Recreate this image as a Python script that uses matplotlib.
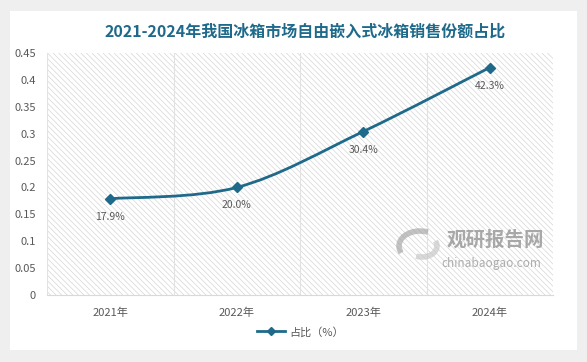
import matplotlib

matplotlib.use("Agg")
import matplotlib.pyplot as plt
from matplotlib.patches import Rectangle, PathPatch, Arc
from matplotlib.path import Path
from matplotlib.lines import Line2D

plt.rcParams["font.family"] = ["Noto Sans CJK SC", "DejaVu Sans"]
plt.rcParams["hatch.linewidth"] = 0.45

# ── Data ──
years = ["2021年", "2022年", "2023年", "2024年"]
share = [0.179, 0.200, 0.304, 0.423]
share_labels = ["17.9%", "20.0%", "30.4%", "42.3%"]
y_ticks = [0, 0.05, 0.1, 0.15, 0.2, 0.25, 0.3, 0.35, 0.4, 0.45]
y_tick_labels = ["0", "0.05", "0.1", "0.15", "0.2", "0.25", "0.3", "0.35", "0.4", "0.45"]

LINE = "#1f6a8a"
GREY_TXT = "#595959"
W, H = 587, 362

fig = plt.figure(figsize=(5.87, 3.62), dpi=100)
fig.patch.set_facecolor("#efefef")

# white card behind everything
fig.patches.append(
    Rectangle((10 / W, 1 - 350 / H), 567 / W, 339 / H,
              transform=fig.transFigure, facecolor="white", edgecolor="none", zorder=-5)
)

ax = fig.add_axes([47 / W, 1 - 295 / H, 506 / W, 242 / H])
ax.set_facecolor("white")
ax.set_xlim(-0.5, 3.5)
ax.set_ylim(0, 0.45)

# hatched plot area
ax.add_patch(Rectangle((0, 0), 1, 1, transform=ax.transAxes, facecolor="none",
                       edgecolor="#d2d2d2", hatch="\\" * 6, lw=0, zorder=0))

for b in [-0.5, 0.5, 1.5, 2.5]:
    ax.axvline(b, color="#e2e2e2", lw=0.8, zorder=1)

# smoothed line (Catmull-Rom through the data points)
xs = list(range(len(share)))
pts = list(zip(xs, share))
verts = [pts[0]]
codes = [Path.MOVETO]
for i in range(len(pts) - 1):
    p0 = pts[i - 1] if i > 0 else pts[i]
    p1 = pts[i]
    p2 = pts[i + 1]
    p3 = pts[i + 2] if i + 2 < len(pts) else pts[i + 1]
    c1 = (p1[0] + (p2[0] - p0[0]) / 6, p1[1] + (p2[1] - p0[1]) / 6)
    c2 = (p2[0] - (p3[0] - p1[0]) / 6, p2[1] - (p3[1] - p1[1]) / 6)
    verts += [c1, c2, p2]
    codes += [Path.CURVE4] * 3
ax.add_patch(PathPatch(Path(verts, codes), facecolor="none", edgecolor=LINE, lw=2, zorder=3))
ax.plot(xs, share, linestyle="none", marker="D", markersize=5.5, color=LINE, zorder=4)

for x, y, lab in zip(xs, share, share_labels):
    ax.annotate(lab, (x, y), xytext=(0, -13), textcoords="offset points",
                ha="center", va="center", fontsize=7.5, color=GREY_TXT, zorder=5)

ax.set_yticks(y_ticks)
ax.set_yticklabels(y_tick_labels)
ax.set_xticks(xs)
ax.set_xticklabels(years)
ax.tick_params(axis="both", length=0, labelsize=8, colors=GREY_TXT)
ax.tick_params(axis="x", pad=9)
ax.tick_params(axis="y", pad=8)
for s in ["top", "right", "left"]:
    ax.spines[s].set_visible(False)
ax.spines["bottom"].set_color("#d9d9d9")

# title
fig.text(0.5 + 12 / W, 1 - 32 / H, "2021-2024年我国冰箱市场自由嵌入式冰箱销售份额占比",
         ha="center", va="center", fontsize=11.5, fontweight="bold", color="#1f6a8a")

# legend
handle = Line2D([0], [0], color=LINE, lw=2, marker="D", markersize=4.5)
fig.legend([handle], ["占比（%）"], loc="center", bbox_to_anchor=(300 / W, 1 - 332 / H),
           frameon=False, fontsize=8, labelcolor=GREY_TXT, handlelength=2.6, handletextpad=0.3)

# watermark
fig.text(447 / W, 1 - 240 / H, "观研报告网", ha="left", va="center", fontsize=14,
         fontweight="bold", color="#9a9a9a", alpha=0.85)
fig.text(441 / W, 1 - 263 / H, "chinabaogao.com", ha="left", va="center", fontsize=8.5,
         color="#a0a0a0", alpha=0.85)
px = fig.dpi_scale_trans
fig.patches.append(Arc((420 / 100, (H - 246) / 100), 0.42, 0.30, theta1=60, theta2=200,
                       transform=px, color="#a8a8a8", lw=4, alpha=0.7))
fig.patches.append(Arc((422 / 100, (H - 246) / 100), 0.30, 0.22, theta1=240, theta2=20,
                       transform=px, color="#c8c8c8", lw=4, alpha=0.7))

fig.savefig("out.png", dpi=100)
